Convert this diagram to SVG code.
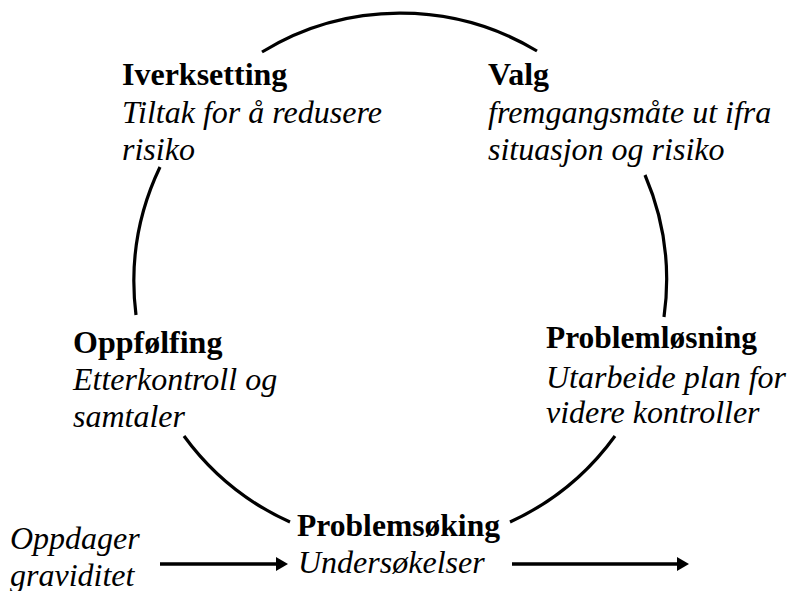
<svg xmlns="http://www.w3.org/2000/svg" width="789" height="591" viewBox="0 0 789 591">
<defs>
<marker id="ah" viewBox="0 0 12 14" refX="1" refY="7" markerWidth="12" markerHeight="14" markerUnits="userSpaceOnUse" orient="auto">
<path d="M0,0 L12,7 L0,14 Z" fill="#000"/>
</marker>
<style>
.t{font-family:"Liberation Serif","Times New Roman",serif;font-size:32px;fill:#000}
.b{font-weight:bold}
.i{font-style:italic}
.arc{fill:none;stroke:#000;stroke-width:3.2}
.arr{fill:none;stroke:#000;stroke-width:3.6;marker-end:url(#ah)}
</style>
</defs>
<rect width="789" height="591" fill="#fff"/>
<g id="connectors">
<path class="arc" d="M262,52 A266,266 0 0 1 537,51"/>
<path class="arc" d="M160,167 A266,266 0 0 0 136,315"/>
<path class="arc" d="M645,175 A266,266 0 0 1 664,317"/>
<path class="arc" d="M184,436 A266,266 0 0 0 290,522"/>
<path class="arc" d="M510,522 A266,266 0 0 0 615,436"/>
<path class="arr" d="M160,564 L277,564"/>
<path class="arr" d="M512,564 L678,564"/>
</g>
<g id="iverksetting">
<text class="t b" x="122" y="85">Iverksetting</text>
<text class="t i" x="122" y="123">Tiltak for å redusere</text>
<text class="t i" x="122" y="160">risiko</text>
</g>
<g id="valg">
<text class="t b" x="488" y="85">Valg</text>
<text class="t i" x="488" y="123">fremgangsmåte ut ifra</text>
<text class="t i" x="488" y="160">situasjon og risiko</text>
</g>
<g id="oppfolfing">
<text class="t b" x="73" y="353">Oppfølfing</text>
<text class="t i" x="73" y="390">Etterkontroll og</text>
<text class="t i" x="73" y="427">samtaler</text>
</g>
<g id="problemlosning">
<text class="t b" x="546" y="348" textLength="211" lengthAdjust="spacingAndGlyphs">Problemløsning</text>
<text class="t i" x="546" y="388">Utarbeide plan for</text>
<text class="t i" x="546" y="423">videre kontroller</text>
</g>
<g id="problemsoking">
<text class="t b" x="297" y="536" textLength="203" lengthAdjust="spacingAndGlyphs">Problemsøking</text>
<text class="t i" x="298" y="573">Undersøkelser</text>
</g>
<g id="oppdager">
<text class="t i" x="10" y="549">Oppdager</text>
<text class="t i" x="10" y="586">graviditet</text>
</g>
</svg>
